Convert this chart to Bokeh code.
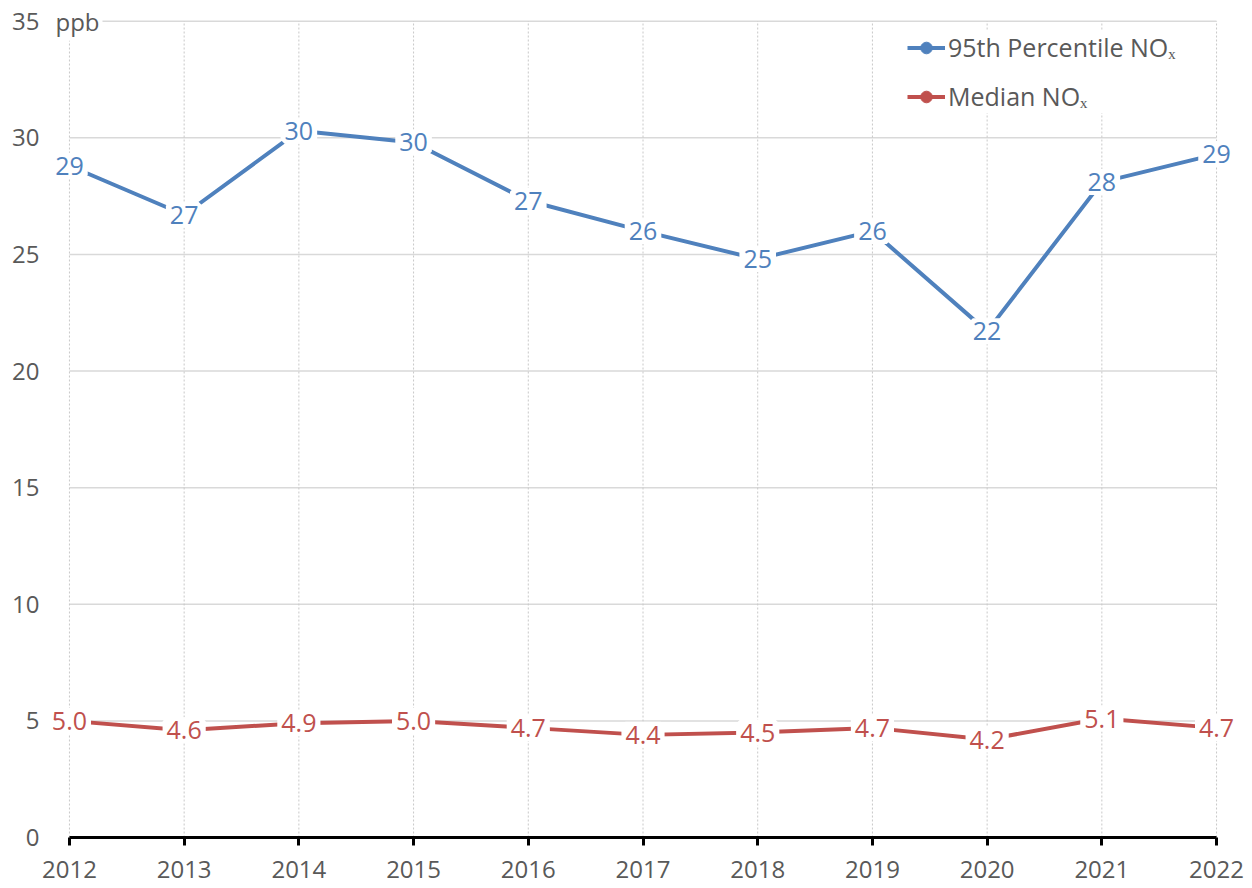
from bokeh.plotting import figure
from bokeh.models import (ColumnDataSource, LabelSet, Label, Range1d, Legend,
                          LegendItem, FixedTicker)
from bokeh.core.properties import value
from bokeh.embed import file_html
from bokeh.resources import INLINE

years = [2012, 2013, 2014, 2015, 2016, 2017, 2018, 2019, 2020, 2021, 2022]
p95_nox = [28.8, 26.7, 30.3, 29.8, 27.3, 26.0, 24.8, 26.0, 21.7, 28.1, 29.3]
median_nox = [5.0, 4.6, 4.9, 5.0, 4.7, 4.4, 4.5, 4.7, 4.2, 5.1, 4.7]
y_ticks = [0, 5, 10, 15, 20, 25, 30, 35]
series_names = ["95th Percentile NOₓ", "Median NOₓ"]
unit_label = "ppb"

BLUE = "#4F81BD"
RED = "#C0504D"
GRAY = "#595959"
FONT = "Open Sans"

src = ColumnDataSource(dict(
    year=years,
    p95=p95_nox,
    med=median_nox,
    p95_lbl=["%.0f" % v for v in p95_nox],
    med_lbl=["%.1f" % v for v in median_nox],
))

x0, x1 = years[0], years[-1]
p = figure(width=1250, height=886,
           x_range=Range1d(x0 - 0.2, x1 + 0.2),
           y_range=Range1d(y_ticks[0], y_ticks[-1] + 0.5),
           output_backend="svg", toolbar_location=None,
           min_border_left=46, min_border_right=11,
           min_border_top=9, min_border_bottom=49)
p.outline_line_color = None
p.background_fill_color = "white"
p.xgrid.visible = False
p.ygrid.visible = False

# own grid lines, limited to the data span
hg = ColumnDataSource(dict(y=y_ticks[1:], xa=[x0] * (len(y_ticks) - 1),
                           xb=[x1] * (len(y_ticks) - 1)))
p.segment(x0="xa", y0="y", x1="xb", y1="y", source=hg,
          line_color="#d9d9d9", line_width=1.5)
vg = ColumnDataSource(dict(x=years, ya=[y_ticks[0]] * len(years),
                           yb=[y_ticks[-1]] * len(years)))
p.segment(x0="x", y0="ya", x1="x", y1="yb", source=vg,
          line_color="#c8c8c8", line_width=1, line_dash="2 2")

# axes
p.xaxis.ticker = FixedTicker(ticks=years)
p.yaxis.ticker = FixedTicker(ticks=y_ticks)
p.xaxis.bounds = (x0, x1)
p.xaxis.axis_line_color = "black"
p.xaxis.axis_line_width = 3
p.xaxis.major_tick_line_color = "black"
p.xaxis.major_tick_line_width = 3
p.xaxis.major_tick_out = 8
p.xaxis.major_tick_in = 0
p.xaxis.minor_tick_line_color = None
p.xaxis.major_label_standoff = 15
p.yaxis.axis_line_color = None
p.yaxis.major_tick_line_color = None
p.yaxis.minor_tick_line_color = None
p.yaxis.major_label_standoff = 1
for ax in (p.xaxis, p.yaxis):
    ax.major_label_text_font = FONT
    ax.major_label_text_font_size = "24px"
    ax.major_label_text_color = GRAY

# series
l1 = p.line("year", "p95", source=src, line_color=BLUE, line_width=4)
s1 = p.scatter("year", "p95", source=src, size=8, color=BLUE)
l2 = p.line("year", "med", source=src, line_color=RED, line_width=4)
s2 = p.scatter("year", "med", source=src, size=8, color=RED)

# data labels
for col, lbl, colr in (("p95", "p95_lbl", BLUE), ("med", "med_lbl", RED)):
    ls = LabelSet(x="year", y=col, text=lbl, source=src,
                  text_align="center", text_baseline="middle",
                  text_font=value(FONT), text_font_size=value("25px"),
                  text_color=colr,
                  background_fill_color="white",
                  border_line_color="white", border_line_width=8)
    p.add_layout(ls)

# unit label
p.add_layout(Label(x=x0, y=y_ticks[-1], x_offset=-14, text=unit_label,
                   text_align="left", text_baseline="middle",
                   text_font=FONT, text_font_size="24px", text_color=GRAY,
                   background_fill_color="white",
                   border_line_color="white", border_line_width=6))

legend = Legend(items=[LegendItem(label=series_names[0], renderers=[l1, s1]),
                       LegendItem(label=series_names[1], renderers=[l2, s2])],
                location=(861, 724))
legend.label_text_font = FONT
legend.label_text_font_size = "25px"
legend.label_text_color = GRAY
legend.label_height = 29
legend.glyph_height = 29
legend.glyph_width = 38
legend.label_standoff = 3
legend.spacing = 15
legend.padding = 10
legend.margin = 0
legend.border_line_color = None
legend.background_fill_color = "white"
legend.background_fill_alpha = 1
p.add_layout(legend)

open("out.html", "w").write(file_html(p, INLINE))
